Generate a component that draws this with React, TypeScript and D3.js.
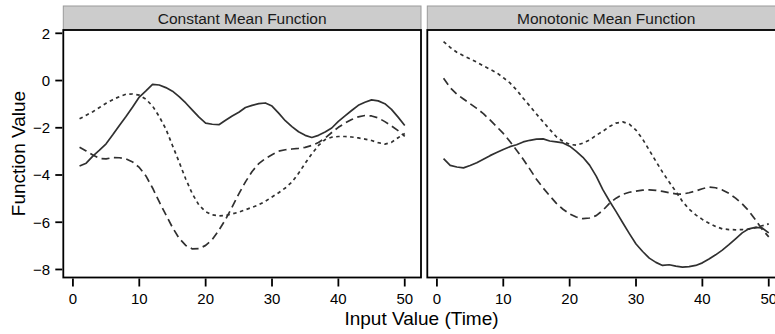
import React from "react";
import * as d3 from "d3";

// ---- data -------------------------------------------------------------
const TIME = [
  1, 2, 3, 4, 5, 6, 7, 8, 9, 10, 11, 12, 13, 14, 15, 16, 17, 18, 19, 20, 21, 22, 23, 24, 25,
  26, 27, 28, 29, 30, 31, 32, 33, 34, 35, 36, 37, 38, 39, 40, 41, 42, 43, 44, 45, 46, 47, 48, 49, 50,
];

const PANEL_TITLES = ["Constant Mean Function", "Monotonic Mean Function"];
const X_TICKS = [0, 10, 20, 30, 40, 50];
const Y_TICKS = [2, 0, -2, -4, -6, -8];

// Constant mean function panel
const constSolid = [
  -3.62, -3.5, -3.2, -2.95, -2.68, -2.3, -1.9, -1.52, -1.12, -0.7, -0.44, -0.16, -0.19, -0.3, -0.45,
  -0.68, -0.95, -1.25, -1.55, -1.8, -1.85, -1.87, -1.68, -1.5, -1.34, -1.14, -1.05, -0.98, -0.95, -1.08,
  -1.38, -1.7, -1.95, -2.17, -2.32, -2.41, -2.32, -2.18, -2.01, -1.73, -1.5, -1.27, -1.05, -0.92, -0.82,
  -0.86, -0.98, -1.22, -1.55, -1.9,
];
const constDashed = [
  -2.82, -2.98, -3.15, -3.3, -3.32, -3.26, -3.27, -3.32, -3.45, -3.68, -4.04, -4.55, -5.13, -5.68, -6.22,
  -6.68, -6.98, -7.13, -7.12, -6.98, -6.73, -6.34, -5.88, -5.35, -4.8, -4.29, -3.85, -3.52, -3.3, -3.14,
  -2.99, -2.93, -2.9, -2.87, -2.83, -2.75, -2.62, -2.44, -2.2, -1.98, -1.8, -1.65, -1.54, -1.48, -1.5,
  -1.58, -1.74, -1.92, -2.12, -2.36,
];
const constDotted = [
  -1.62, -1.47, -1.32, -1.14, -0.96, -0.81, -0.68, -0.58, -0.57, -0.62, -0.79, -1.08, -1.52, -2.05, -2.75,
  -3.45, -4.17, -4.8, -5.28, -5.55, -5.69, -5.73, -5.71, -5.65, -5.57, -5.47, -5.37, -5.26, -5.11, -4.93,
  -4.75, -4.55, -4.3, -3.93, -3.5, -3.1, -2.75, -2.5, -2.4, -2.37, -2.37, -2.39, -2.43, -2.48, -2.54,
  -2.63, -2.69, -2.62, -2.42, -2.24,
];

// Monotonic mean function panel
const monoSolid = [
  -3.31, -3.59, -3.66, -3.7, -3.6, -3.48, -3.33, -3.18, -3.05, -2.92, -2.8, -2.72, -2.6, -2.53, -2.48,
  -2.47, -2.56, -2.6, -2.64, -2.78, -3.0, -3.25, -3.58, -4.05, -4.62, -5.1, -5.55, -6.02, -6.48, -6.92,
  -7.24, -7.52, -7.7, -7.83, -7.8, -7.86, -7.9, -7.88, -7.83, -7.72, -7.56, -7.38, -7.18, -6.95, -6.7,
  -6.45, -6.28, -6.22, -6.24, -6.45,
];
const monoDashed = [
  0.1, -0.3, -0.58, -0.78, -0.98, -1.18, -1.4, -1.67, -1.95, -2.24, -2.58, -2.95, -3.33, -3.75, -4.18,
  -4.55, -4.88, -5.2, -5.45, -5.65, -5.78, -5.85, -5.82, -5.72, -5.5, -5.2, -4.98, -4.82, -4.73, -4.68,
  -4.64, -4.63, -4.65, -4.69, -4.75, -4.8, -4.81, -4.75, -4.68, -4.58, -4.51, -4.54, -4.63, -4.78, -4.98,
  -5.22, -5.52, -5.9, -6.3, -6.62,
];
const monoDotted = [
  1.65, 1.4, 1.2, 1.05, 0.92, 0.78, 0.62, 0.48, 0.33, 0.12, -0.1, -0.4, -0.75, -1.08, -1.42,
  -1.75, -2.07, -2.38, -2.58, -2.7, -2.74, -2.65, -2.52, -2.32, -2.15, -1.95, -1.8, -1.75, -1.85, -2.1,
  -2.48, -2.95, -3.42, -3.88, -4.3, -4.7, -5.12, -5.45, -5.69, -5.88, -6.04, -6.18, -6.28, -6.31, -6.32,
  -6.31, -6.29, -6.23, -6.15, -6.07,
];

const X_TITLE = "Input Value (Time)";
const Y_TITLE = "Function Value";

// ---- layout -----------------------------------------------------------
const W = 775;
const H = 334;
const PANEL_TOP = 30;
const PANEL_BOTTOM = 277.5;
const STRIP_TOP = 6;
const PANEL_W = 357.7;
const PANEL_LEFTS = [63.3, 427.3];
const FONT = "'Liberation Sans', Arial, Helvetica, sans-serif";
const LINE_COLOR = "#303030";
const DASHES = [undefined, "8,4.5", "3.5,3.5"];

export default function App() {
  const y = d3.scaleLinear().domain([-8.34, 2.14]).range([PANEL_BOTTOM, PANEL_TOP]);
  const panelData = [
    [constSolid, constDashed, constDotted],
    [monoSolid, monoDashed, monoDotted],
  ];

  return (
    <svg
      width={W}
      height={H}
      style={{ position: "absolute", left: 0, top: 0, background: "#fff" }}
      fontFamily={FONT}
    >
      <rect x={0} y={0} width={W} height={H} fill="#fff" />
      {panelData.map((series, pi) => {
        const x0 = PANEL_LEFTS[pi];
        const x = d3.scaleLinear().domain([-1.45, 52.45]).range([x0, x0 + PANEL_W]);
        const line = d3
          .line<number>()
          .x((_, j) => x(TIME[j]))
          .y((d) => y(d));
        const clipId = `clip-${pi}`;
        return (
          <g key={pi}>
            <defs>
              <clipPath id={clipId}>
                <rect x={x0} y={PANEL_TOP} width={PANEL_W} height={PANEL_BOTTOM - PANEL_TOP} />
              </clipPath>
            </defs>
            {/* strip */}
            <rect
              x={x0}
              y={STRIP_TOP}
              width={PANEL_W}
              height={PANEL_TOP - STRIP_TOP}
              fill="#cccccc"
              stroke="#9a9a9a"
              strokeWidth={1}
            />
            <text
              x={x0 + PANEL_W / 2}
              y={24}
              textAnchor="middle"
              fontSize={15.5}
              fill="#1a1a1a"
            >
              {PANEL_TITLES[pi]}
            </text>
            {/* lines */}
            <g clipPath={`url(#${clipId})`}>
              {series.map((s, k) => (
                <path
                  key={k}
                  d={line(s) || ""}
                  fill="none"
                  stroke={LINE_COLOR}
                  strokeWidth={1.7}
                  strokeDasharray={DASHES[k]}
                  strokeLinejoin="round"
                />
              ))}
            </g>
            {/* panel border */}
            <rect
              x={x0}
              y={PANEL_TOP}
              width={PANEL_W}
              height={PANEL_BOTTOM - PANEL_TOP}
              fill="none"
              stroke="#000"
              strokeWidth={1.8}
            />
            {/* x ticks */}
            {X_TICKS.map((t) => (
              <g key={t}>
                <line
                  x1={x(t)}
                  x2={x(t)}
                  y1={PANEL_BOTTOM + 1}
                  y2={PANEL_BOTTOM + 9}
                  stroke="#000"
                  strokeWidth={1.8}
                />
                <text x={x(t)} y={304} textAnchor="middle" fontSize={15} fill="#000">
                  {t}
                </text>
              </g>
            ))}
          </g>
        );
      })}
      {/* y axis ticks on the left panel */}
      {Y_TICKS.map((v) => (
        <g key={v}>
          <line
            x1={PANEL_LEFTS[0] - 8}
            x2={PANEL_LEFTS[0] - 1}
            y1={y(v)}
            y2={y(v)}
            stroke="#000"
            strokeWidth={1.8}
          />
          <text x={50} y={y(v) + 5.4} textAnchor="end" fontSize={15} fill="#000">
            {v < 0 ? `\u2212${Math.abs(v)}` : `${v}`}
          </text>
        </g>
      ))}
      {/* axis titles */}
      <text x={421.5} y={325} textAnchor="middle" fontSize={19} fill="#000">
        {X_TITLE}
      </text>
      <text
        transform={`translate(25,153.5) rotate(-90)`}
        textAnchor="middle"
        fontSize={19}
        fill="#000"
      >
        {Y_TITLE}
      </text>
    </svg>
  );
}
